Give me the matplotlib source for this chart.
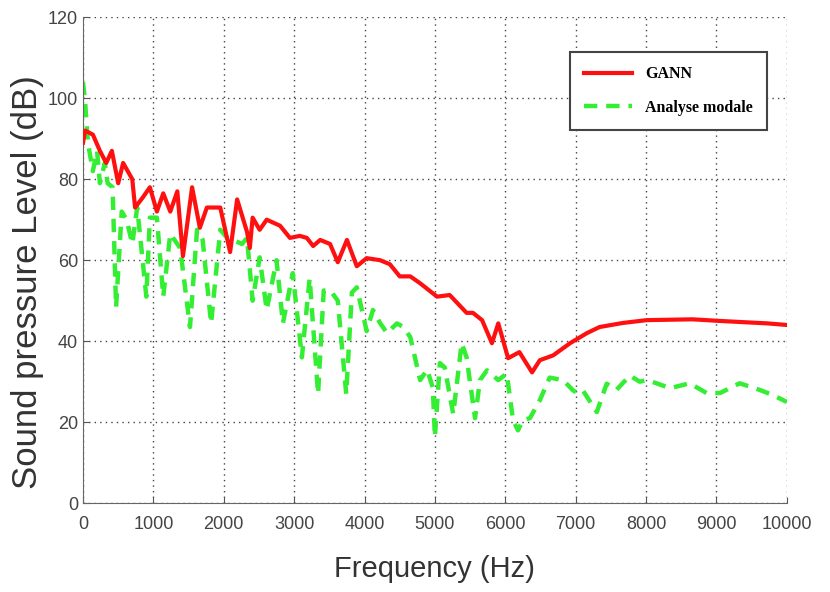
import matplotlib.pyplot as plt
import numpy as np

# GANN curve (Hz, dB)
gann_f = [0, 30, 140, 240, 330, 410, 500, 570, 700, 740, 850, 950, 1050, 1140,
          1240, 1340, 1420, 1550, 1660, 1760, 1950, 2090, 2190, 2330, 2370, 2410,
          2510, 2610, 2800, 2940, 3080, 3180, 3270, 3370, 3510, 3620, 3750, 3890,
          4030, 4220, 4360, 4500, 4650, 4790, 5030, 5210, 5450, 5540, 5670, 5810,
          5900, 6040, 6200, 6380, 6490, 6680, 6920, 7160, 7340, 7670, 8010, 8660,
          9050, 9380, 9720, 10000]
gann_db = [89, 92, 91, 87, 84, 87, 79, 84, 80, 73, 75.5, 78, 72, 76.5,
           72, 77, 61, 78, 68, 73, 73, 62, 75, 67, 63, 70.5,
           67.5, 70, 68.5, 65.5, 66, 65.5, 63.5, 65, 64, 59.5, 65, 58.5,
           60.5, 60, 59, 56, 56, 54.3, 51, 51.4, 47, 47, 45.2, 39.5,
           44.4, 35.8, 37.3, 32.3, 35.3, 36.5, 39.5, 42, 43.5, 44.5, 45.2, 45.4,
           45, 44.7, 44.4, 44]

# Modal analysis curve (Hz, dB)
modal_f = [0, 30, 70, 140, 200, 240, 310, 350, 420, 470, 550, 620, 700, 770,
           900, 950, 1050, 1140, 1240, 1380, 1520, 1620, 1700, 1820, 1950, 2050,
           2130, 2260, 2330, 2410, 2510, 2610, 2750, 2840, 2980, 3110, 3220, 3340,
           3420, 3510, 3620, 3740, 3820, 3890, 4030, 4120, 4220, 4320, 4460, 4550,
           4650, 4790, 4890, 4970, 5000, 5070, 5140, 5260, 5380, 5450, 5570, 5640,
           5740, 5900, 6020, 6110, 6180, 6250, 6350, 6490, 6630, 6820, 6960, 7020,
           7100, 7300, 7440, 7580, 7770, 7910, 8010, 8150, 8340, 8620, 8860, 9050,
           9330, 9610, 9800, 10000]
modal_db = [104, 99, 89, 82, 87, 79, 84, 79, 78, 48.4, 72, 70, 64, 73,
            51, 70.5, 70.5, 51, 66.5, 63, 43.5, 67.5, 65, 44.4, 67.5, 65.5,
            65, 64, 65.5, 50, 60.7, 47.7, 60, 44.4, 56.8, 36, 55.5, 27,
            52.5, 52.6, 50, 27, 52, 53.3, 42.5, 47.7, 44.5, 42, 44.4, 43.5,
            41, 30.4, 33, 28.5, 16.3, 34.6, 33.5, 22, 39.5, 36, 21, 30.4,
            32.8, 30.4, 32, 20.5, 18, 20.5, 21, 25.4, 31, 30.4, 27.9, 27.2,
            27.9, 22.5, 29.5, 28, 31.5, 30, 30.4, 29.6, 28.4, 29.6, 27.2, 27.2,
            29.6, 28, 26.7, 25]

plt.rcParams['font.family'] = ['Liberation Sans', 'DejaVu Sans']

fig = plt.figure(figsize=(8.3, 5.92), dpi=100)
ax = fig.add_axes([0.1, 0.15, 0.848, 0.821])

ax.plot(gann_f, gann_db, color='#ff1010', lw=3, label='GANN', zorder=3)
ax.plot(modal_f, modal_db, color='#33ee33', lw=3.2, ls=(0, (3, 2)),
        label='Analyse modale', zorder=2)

ax.set_xlim(0, 10000)
ax.set_ylim(0, 120)
ax.set_xticks(np.arange(0, 10001, 1000))
ax.set_yticks(np.arange(0, 121, 20))
ax.grid(True, color='#444444', ls=(0, (1, 3)), lw=1.0)
ax.tick_params(direction='in', length=4, colors='#555555', labelsize=13,
               labelcolor='#444444')
ax.tick_params(axis='x', pad=9)
for s in ['top', 'right']:
    ax.spines[s].set_visible(False)
for s in ['left', 'bottom']:
    ax.spines[s].set_color('#666666')

ax.set_xlabel('Frequency (Hz)', fontsize=21, color='#333333', labelpad=16)
ax.set_ylabel('Sound pressure Level (dB)', fontsize=25, color='#333333')
ax.yaxis.set_label_coords(-0.056, 0.455)

leg = ax.legend(loc='upper right', bbox_to_anchor=(0.983, 0.945),
                prop={'family': 'Liberation Serif', 'weight': 'bold', 'size': 11.5},
                handlelength=3.0, fancybox=False, framealpha=1,
                edgecolor='#444444', borderpad=0.9, labelspacing=1.1)
leg.get_frame().set_linewidth(1.5)

plt.savefig('out.png', dpi=100)
